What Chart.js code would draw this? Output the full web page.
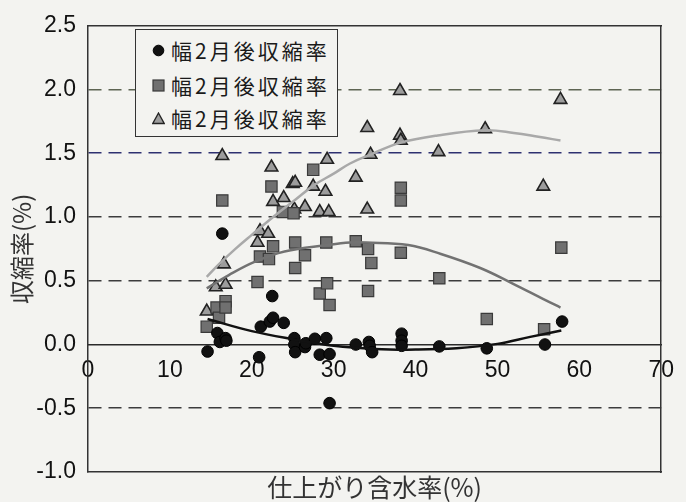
<!DOCTYPE html>
<html>
<head>
<meta charset="utf-8">
<script src="https://cdn.jsdelivr.net/npm/chart.js@4"></script>
<style>
html,body{margin:0;padding:0;background:#f3f3f0;}
#wrap{position:relative;width:686px;height:502px;}
#legend{position:absolute;left:135px;top:29px;width:203px;height:108px;border:1.5px solid #333;background:#f3f3f0;box-sizing:border-box;font-family:"Noto Sans CJK JP","Noto Sans",sans-serif;font-size:21px;color:#1a1a1a;}
.row{position:absolute;left:0;height:30px;display:flex;align-items:center;}
.row svg{margin-left:16px;margin-right:6px;}
.row span{letter-spacing:3px;line-height:1;}
</style>
</head>
<body>
<div id="wrap">
<canvas id="c" width="686" height="502"></canvas>
<div id="legend"></div>
</div>
<script>
// ---- data ----
const circleX = [14.6,15.8,16.1,16.8,16.9,16.4,20.9,21.1,22.2,22.6,22.5,23.9,25.2,25.2,25.3,26.5,26.6,27.7,29.1,28.3,29.5,29.5,32.7,34.3,34.4,34.7,38.3,38.3,38.3,42.9,48.7,55.8,57.9];
const circleY = [-0.055,0.09,0.02,0.05,0.03,0.87,-0.10,0.14,0.18,0.21,0.38,0.17,0.05,0.0,-0.06,-0.02,0.01,0.045,0.05,-0.08,-0.075,-0.46,0.0,0.02,-0.01,-0.06,0.085,0.03,-0.01,-0.015,-0.03,0.0,0.18];

const squareX = [14.5,15.7,16.0,16.8,16.8,16.4,20.7,21.0,22.1,22.4,22.6,23.8,25.1,25.3,25.3,26.5,27.5,28.3,29.1,29.2,29.5,32.7,34.2,34.6,34.2,38.2,38.2,38.2,42.9,48.7,55.7,57.8];
const squareY = [0.14,0.29,0.21,0.34,0.29,1.13,0.49,0.69,0.67,1.24,0.77,1.04,1.03,0.80,0.60,0.70,1.37,0.40,0.80,0.48,0.31,0.81,0.75,0.64,0.42,1.23,1.13,0.72,0.52,0.20,0.12,0.76];

const triX = [14.5,15.6,16.8,16.6,16.4,20.7,21.0,22.0,22.4,22.6,23.9,25.0,25.3,25.2,26.5,27.5,28.3,29.0,29.4,29.2,32.7,34.1,34.1,34.5,38.1,38.1,38.2,42.8,48.5,55.6,57.7];
const triY = [0.26,0.45,0.47,0.63,1.48,0.80,0.89,0.87,1.39,1.12,1.15,1.26,1.27,1.06,1.08,1.24,1.04,1.20,1.04,1.45,1.31,1.06,1.70,1.49,1.99,1.64,1.60,1.51,1.69,1.24,1.92];

const fitBlackX = [14.6,20.0,25.2,30,35,40,45,50,54,57.8];
const fitBlackY = [0.20,0.105,0.04,-0.01,-0.035,-0.04,-0.03,0.005,0.06,0.11];

const fitGrayX = [14.5,17.2,20.4,24.0,29.2,32,34,39.1,43.1,47.9,51.8,55.8,57.7];
const fitGrayY = [0.44,0.545,0.65,0.73,0.78,0.80,0.80,0.78,0.71,0.60,0.48,0.35,0.29];

const fitLightX = [14.5,16,18,20,22.8,25.2,27.6,30,32,34.5,38,42.7,48.5,52,55,57.7];
const fitLightY = [0.53,0.63,0.75,0.86,1.01,1.13,1.25,1.34,1.42,1.49,1.58,1.64,1.68,1.66,1.63,1.60];

const legendLabels = ['幅2月後収縮率','幅2月後収縮率','幅2月後収縮率'];
const xTitle = '仕上がり含水率(%)';
const yTitle = '収縮率(%)';
const xRange = [0, 70], xStep = 10;
const yRange = [-1.0, 2.5], yStep = 0.5;

// ---- build ----
function pts(xs, ys){ return xs.map((x,i)=>({x:x, y:ys[i]})); }

const tickFont = {family:'"Liberation Sans", Arial, sans-serif', size:23};
const cjkFont = '"Noto Sans CJK JP", "Noto Sans", sans-serif';

function gridColor(ctx){
  const v = ctx.tick ? ctx.tick.value : null;
  if (v === null) return 'rgba(0,0,0,0)';
  if (Math.abs(v) < 1e-9 || Math.abs(v - yRange[0]) < 1e-9 || Math.abs(v - yRange[1]) < 1e-9) return 'rgba(0,0,0,0)';
  if (Math.abs(v - 2.0) < 1e-9) return '#5d6452';
  if (Math.abs(v - 1.5) < 1e-9) return '#2e3070';
  return '#3c3c3c';
}

const lineBase = {type:'line', showLine:true, pointRadius:0, pointHoverRadius:0, fill:false, tension:0.4, borderWidth:2.5, xAxisID:'x', yAxisID:'y'};

new Chart(document.getElementById('c'), {
  type: 'scatter',
  data: {
    datasets: [
      Object.assign({}, lineBase, {label:'fit1', data: pts(fitBlackX, fitBlackY), borderColor:'#111111'}),
      Object.assign({}, lineBase, {label:'fit2', data: pts(fitGrayX, fitGrayY), borderColor:'#727272'}),
      Object.assign({}, lineBase, {label:'fit3', data: pts(fitLightX, fitLightY), borderColor:'#a9a9a9'}),
      {label: legendLabels[0], data: pts(circleX, circleY), pointStyle:'circle', pointRadius:5.8, backgroundColor:'#111111', borderColor:'#000000', borderWidth:1, xAxisID:'x', yAxisID:'y'},
      {label: legendLabels[1], data: pts(squareX, squareY), pointStyle:'rect', pointRadius:8, backgroundColor:'#707070', borderColor:'#3a3a3a', borderWidth:1.2, xAxisID:'x', yAxisID:'y'},
      {label: legendLabels[2], data: pts(triX, triY), pointStyle:'triangle', pointRadius:7.3, backgroundColor:'#9c9c9c', borderColor:'#222222', borderWidth:1.6, xAxisID:'x', yAxisID:'y'}
    ]
  },
  options: {
    responsive: false,
    animation: false,
    events: [],
    layout: {padding: 0},
    plugins: {legend: {display:false}, tooltip: {enabled:false}},
    scales: {
      x: {
        type:'linear', position:{y:0}, min:xRange[0], max:xRange[1],
        ticks:{stepSize:xStep, font:tickFont, color:'#111', padding:12, maxRotation:0, autoSkip:false},
        grid:{display:false, drawTicks:false},
        border:{display:true, color:'#2a2a2a', width:1.5}
      },
      y: {
        type:'linear', position:'left', min:yRange[0], max:yRange[1],
        ticks:{stepSize:yStep, font:tickFont, color:'#111', padding:12, callback:(v)=>Number(v).toFixed(1)},
        grid:{color:gridColor, lineWidth:1.6, drawTicks:false},
        border:{display:true, color:'#333', width:1.5, dash:[13,7]},
        title:{display:true, text:yTitle, font:{family:cjkFont, size:24}, color:'#333', padding:{top:7, bottom:0}},
        afterFit:(s)=>{ s.width = 88; }
      },
      xb: {
        type:'linear', position:'bottom', min:xRange[0], max:xRange[1],
        ticks:{display:false}, grid:{display:false, drawTicks:false},
        border:{display:true, color:'#333', width:1.5},
        title:{display:true, text:xTitle, font:{family:cjkFont, size:25}, color:'#333', padding:{top:0, bottom:0}},
        afterFit:(s)=>{ s.height = 30; }
      },
      xt: {
        type:'linear', position:'top', min:xRange[0], max:xRange[1],
        ticks:{display:false}, grid:{display:false, drawTicks:false},
        border:{display:true, color:'#333', width:1.5},
        afterFit:(s)=>{ s.height = 21; }
      },
      yr: {
        type:'linear', position:'right', min:yRange[0], max:yRange[1],
        ticks:{display:false}, grid:{display:false, drawTicks:false},
        border:{display:true, color:'#333', width:1.5},
        afterFit:(s)=>{ s.width = 13; }
      }
    }
  }
});

// ---- legend (HTML, real text) ----
const markers = [
  '<svg width="13" height="13"><circle cx="6.5" cy="6.5" r="5.3" fill="#111" stroke="#000" stroke-width="1"/></svg>',
  '<svg width="13" height="13"><rect x="1" y="1" width="11" height="11" fill="#707070" stroke="#3a3a3a" stroke-width="1.2"/></svg>',
  '<svg width="13" height="13"><polygon points="6.5,1 12.2,11.5 0.8,11.5" fill="#9c9c9c" stroke="#222" stroke-width="1.3"/></svg>'
];
const rowTops = [5, 40, 73];
const lg = document.getElementById('legend');
legendLabels.forEach((t,i)=>{
  const r = document.createElement('div');
  r.className = 'row';
  r.style.top = rowTops[i] + 'px';
  r.innerHTML = markers[i] + '<span></span>';
  r.querySelector('span').textContent = t;
  lg.appendChild(r);
});
</script>
</body>
</html>
